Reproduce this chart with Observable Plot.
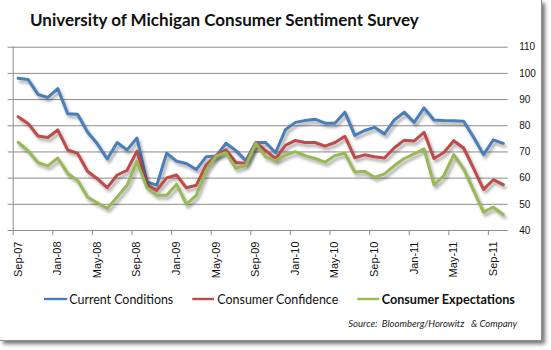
<!DOCTYPE html>
<html><head><meta charset="utf-8">
<script src="https://cdn.jsdelivr.net/npm/d3@7"></script>
<script src="https://cdn.jsdelivr.net/npm/@observablehq/plot@0.6"></script>
<style>
html,body{margin:0;padding:0;background:#fff;}
#wrap{position:relative;width:551px;height:350px;overflow:hidden;background:#fff;}
#box{position:absolute;left:0;top:0;width:541px;height:340px;background:#fff;border-right:1px solid #8f8f8f;border-bottom:1px solid #8f8f8f;box-shadow:3px 3px 4px rgba(0,0,0,0.55);}
#chart{position:absolute;left:0;top:0;}
#overlay{position:absolute;left:0;top:0;}
g[aria-label="line"] path{filter:drop-shadow(2px 3px 1.5px rgba(0,0,0,0.33));}
</style></head>
<body><div id="wrap"><div id="box"></div><div id="chart"></div><svg id="overlay" width="551" height="350"></svg></div>
<script>
const months = ["Sep-07","Oct-07","Nov-07","Dec-07",
  "Jan-08","Feb-08","Mar-08","Apr-08","May-08","Jun-08","Jul-08","Aug-08","Sep-08","Oct-08","Nov-08","Dec-08",
  "Jan-09","Feb-09","Mar-09","Apr-09","May-09","Jun-09","Jul-09","Aug-09","Sep-09","Oct-09","Nov-09","Dec-09",
  "Jan-10","Feb-10","Mar-10","Apr-10","May-10","Jun-10","Jul-10","Aug-10","Sep-10","Oct-10","Nov-10","Dec-10",
  "Jan-11","Feb-11","Mar-11","Apr-11","May-11","Jun-11","Jul-11","Aug-11","Sep-11","Oct-11"];
const current = [98.1,97.7,92.0,90.8,94.2,84.6,84.4,77.6,73.1,67.3,
  73.6,70.8,75.3,58.6,57.3,69.5,66.5,65.6,63.3,68.2,
  68.5,73.3,70.5,66.7,73.6,73.6,69.7,78.5,81.3,82.0,
  82.5,81.0,81.0,85.2,76.3,78.2,79.4,76.9,82.2,85.2,
  81.3,86.8,82.2,82.0,81.9,81.7,75.6,69.0,74.6,73.3];
const confidence = [83.4,80.9,76.1,75.5,78.4,70.8,69.5,62.6,59.8,56.4,
  61.2,63.0,70.3,57.6,55.3,60.1,61.2,56.3,57.3,65.1,
  68.7,70.8,66.0,65.7,73.5,70.6,67.4,72.5,74.4,73.6,
  73.6,72.2,73.6,76.0,67.8,68.9,68.2,67.7,71.6,74.5,
  74.2,77.5,67.5,69.8,74.3,71.5,63.7,55.7,59.4,57.5];
const expectations = [73.7,70.5,66.0,64.7,67.7,61.8,59.2,52.8,50.6,48.5,
  52.8,57.3,66.3,56.4,53.5,53.5,57.7,50.0,53.5,63.1,
  68.5,69.7,63.7,65.0,73.3,68.2,66.7,68.8,70.1,68.6,
  67.5,66.1,68.6,69.5,62.3,62.6,60.3,61.6,64.8,67.5,
  69.3,71.2,57.4,61.0,69.0,63.5,55.3,47.0,48.9,46.1];
const seriesNames = ["Current Conditions","Consumer Confidence","Consumer Expectations"];
const seriesColors = ["#4A7EBB","#BE4B48","#98B954"];
const xTickLabels = ["Sep-07","Jan-08","May-08","Sep-08","Jan-09","May-09","Sep-09","Jan-10","May-10","Sep-10","Jan-11","May-11","Sep-11"];
const yTicks = [40,50,60,70,80,90,100,110];
const titleText = "University of Michigan Consumer Sentiment Survey";
const sourceText = "Source:  Bloomberg/Horowitz   & Company";

const labelIdx = xTickLabels.map(l => months.indexOf(l));
const boundaryIdx = labelIdx.map(i => i - 0.5);
const x0 = -0.5, x1 = months.length - 0.5;
const gray = "#8c8c8c";
const axisFont = "Liberation Sans, Arial, sans-serif";

const chart = Plot.plot({
  width: 551, height: 350,
  marginLeft: 12.7, marginRight: 43.3, marginTop: 46.7, marginBottom: 120,
  style: {background: "transparent", fontFamily: axisFont, color: "#111"},
  x: {type: "linear", domain: [x0, x1]},
  y: {domain: [40, 110]},
  marks: [
    Plot.gridY(yTicks, {stroke: gray, strokeOpacity: 1, strokeWidth: 1}),
    Plot.ruleX([x0], {stroke: gray, strokeWidth: 1}),
    Plot.ruleY(yTicks, {x1: x0, x2: x0, insetLeft: -5, stroke: gray}),
    Plot.ruleX(boundaryIdx, {y1: 40, y2: 40, insetBottom: -5, stroke: gray}),
    Plot.axisY(yTicks, {anchor: "right", tickSize: 0, tickPadding: 11, fontSize: 10, fontFamily: axisFont}),
    Plot.axisX(labelIdx, {anchor: "bottom", tickSize: 0, tickPadding: 11, tickRotate: -90,
      tickFormat: i => months[i], fontSize: 11, fontFamily: axisFont}),
    Plot.lineY(current, {stroke: seriesColors[0], strokeWidth: 3, strokeLinejoin: "round"}),
    Plot.lineY(confidence, {stroke: seriesColors[1], strokeWidth: 3, strokeLinejoin: "round"}),
    Plot.lineY(expectations, {stroke: seriesColors[2], strokeWidth: 3, strokeLinejoin: "round"})
  ]
});
document.getElementById("chart").appendChild(chart);

// title, legend, source
const ov = d3.select("#overlay");
const txtFont = "Lato, 'Open Sans', sans-serif";
function fit(sel, target) {
  const node = sel.node();
  const w = node.getComputedTextLength();
  const fs = parseFloat(sel.attr("font-size"));
  if (w > 0) sel.attr("font-size", (fs * target / w).toFixed(2));
}
const title = ov.append("text").attr("x", 30).attr("y", 26.4)
  .attr("font-family", txtFont).attr("font-weight", 700).attr("font-size", 16)
  .attr("fill", "#111").text(titleText);
fit(title, 389);

const legendSpec = [
  {l1: 44, l2: 67.3, tx: 69.3, tw: 104, bold: false},
  {l1: 192.3, l2: 214, tx: 217.3, tw: 121, bold: false},
  {l1: 357.3, l2: 379.3, tx: 381.7, tw: 133.3, bold: true}
];
legendSpec.forEach((s, k) => {
  ov.append("line").attr("x1", s.l1).attr("x2", s.l2).attr("y1", 299).attr("y2", 299)
    .attr("stroke", seriesColors[k]).attr("stroke-width", 2.4);
  const t = ov.append("text").attr("x", s.tx).attr("y", 303.5)
    .attr("font-family", txtFont).attr("font-weight", s.bold ? 700 : 400)
    .attr("font-size", 13).attr("fill", "#111").text(seriesNames[k]);
  fit(t, s.tw);
});
const src = ov.append("text").attr("x", 348.3).attr("y", 326.5)
  .attr("font-family", txtFont).attr("font-style", "italic").attr("font-size", 9)
  .attr("fill", "#222").style("white-space", "pre").text(sourceText);
fit(src, 169);
</script></body></html>
